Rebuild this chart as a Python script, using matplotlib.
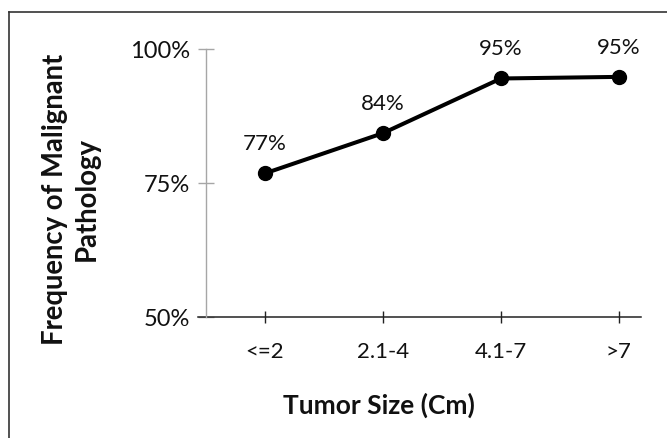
import matplotlib
matplotlib.use("Agg")
import matplotlib.pyplot as plt
from matplotlib.lines import Line2D

categories = ["<=2", "2.1-4", "4.1-7", ">7"]
values = [76.8, 84.3, 94.5, 94.8]
labels = ["77%", "84%", "95%", "95%"]
yticks = [50, 75, 100]
ytick_labels = ["50%", "75%", "100%"]

plt.rcParams['font.family'] = ['Lato', 'DejaVu Sans']
W, H = 667, 438
fig = plt.figure(figsize=(W / 100, H / 100), dpi=100)
fig.patch.set_facecolor('white')

x0, x1 = 206, 641
ytop, ybot = 49, 317
ax = fig.add_axes([x0 / W, 1 - ybot / H, (x1 - x0) / W, (ybot - ytop) / H])

xs = list(range(len(categories)))
ax.plot(xs, values, color='black', lw=2.9, marker='o', ms=10, zorder=3, clip_on=False)
for x, v, t in zip(xs, values, labels):
    ax.annotate(t, (x, v), xytext=(0, 21), textcoords='offset points',
                ha='center', va='center', fontsize=16, color='#111111')

ax.set_xlim(-0.5, 3.187)
ax.set_ylim(50, 100)
ax.set_xticks(xs)
ax.set_xticklabels(categories, fontsize=16, color='#111111')
ax.set_yticks(yticks)
ax.set_yticklabels(ytick_labels, fontsize=17, color='#111111')

for s in ['top', 'right', 'bottom']:
    ax.spines[s].set_visible(False)
ax.spines['left'].set_color('#a6a6a6')
ax.spines['left'].set_linewidth(1.0)

ax.tick_params(axis='y', direction='inout', length=11.5, width=1.0, color='#a6a6a6', pad=6)
ax.tick_params(axis='x', direction='inout', length=8, width=1.0, color='#222222', pad=14)

# x axis line (extends slightly left of the y axis)
ax.plot([-0.5 - 8 / 117.67, 3.187], [50, 50], color='#222222', lw=1.1, clip_on=False, zorder=2)

fig.text(379 / W, 1 - 405 / H, "Tumor Size (Cm)", ha='center', va='center',
         fontsize=19, fontweight='bold', color='#111111')
fig.text(71 / W, 1 - 199 / H, "Frequency of Malignant\nPathology", ha='center', va='center',
         rotation=90, fontsize=19.8, fontweight='bold', color='#111111', linespacing=1.28,
         multialignment='center')

# outer frame (left and top edges)
fig.add_artist(Line2D([8.5 / W, 8.5 / W], [0, 1 - 12 / H], transform=fig.transFigure,
                      color='#333333', lw=1.2))
fig.add_artist(Line2D([8.5 / W, 1], [1 - 12 / H, 1 - 12 / H], transform=fig.transFigure,
                      color='#333333', lw=1.2))

fig.savefig("out.png", dpi=100)
